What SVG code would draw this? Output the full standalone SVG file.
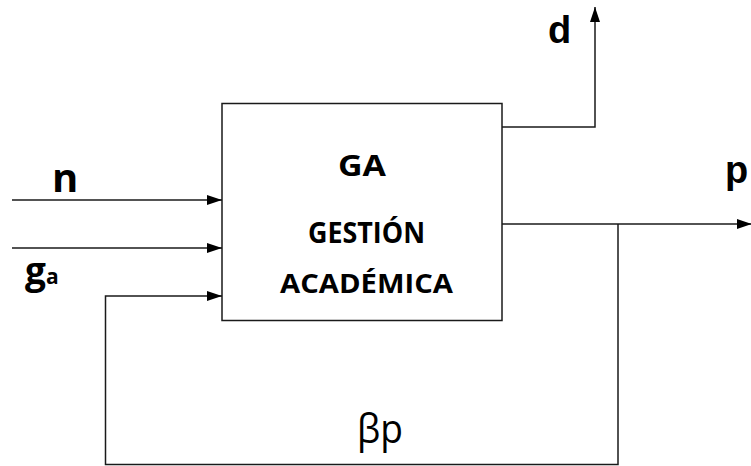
<svg xmlns="http://www.w3.org/2000/svg" width="751" height="466" viewBox="0 0 751 466">
  <style>
    .wire { fill: none; stroke: #1a1a1a; stroke-width: 1.5; }
    .box { fill: #ffffff; stroke: #1a1a1a; stroke-width: 1.5; }
    .lbl { font-family: "Open Sans", Lato, "Liberation Sans", sans-serif; font-weight: bold; fill: #000; }
    .sig { font-family: "Liberation Sans", Arial, sans-serif; font-weight: bold; fill: #000; }
    .fb { font-family: "Open Sans", "Noto Sans", "DejaVu Sans", sans-serif; fill: #000; }
  </style>
  <defs>
    <marker id="arrow" markerUnits="userSpaceOnUse" markerWidth="15" markerHeight="10" refX="15" refY="5" orient="auto">
      <path d="M0,0 L15,5 L0,10 z" fill="#000"/>
    </marker>
  </defs>
  <rect width="751" height="466" fill="#ffffff"/>

  <!-- process block -->
  <g id="node-ga">
    <rect class="box" x="222" y="103.5" width="280" height="217"/>
    <text class="lbl" x="362" y="176" font-size="29" text-anchor="middle" textLength="48" lengthAdjust="spacingAndGlyphs">GA</text>
    <text class="lbl" x="366.5" y="243" font-size="28" text-anchor="middle" textLength="117" lengthAdjust="spacingAndGlyphs">GESTIÓN</text>
    <text class="lbl" x="366.5" y="293" font-size="27.5" text-anchor="middle" textLength="173" lengthAdjust="spacingAndGlyphs">ACADÉMICA</text>
  </g>

  <!-- signal labels -->
  <g id="label-n">
    <text class="lbl" x="52" y="192" font-size="40">n</text>
  </g>
  <g id="label-ga">
    <text class="lbl" x="25" y="284" font-size="37">g<tspan font-size="21" dx="0">a</tspan></text>
  </g>
  <g id="label-d">
    <text class="sig" x="548" y="43" font-size="38">d</text>
  </g>
  <g id="label-p">
    <text class="sig" x="725" y="183" font-size="38">p</text>
  </g>
  <g id="label-bp">
    <text class="fb" x="357" y="443" font-size="40" textLength="46" lengthAdjust="spacingAndGlyphs">βp</text>
  </g>

  <!-- connectors -->
  <g id="connectors">
    <line class="wire" x1="12" y1="200" x2="222" y2="200" marker-end="url(#arrow)"/>
    <line class="wire" x1="12" y1="248" x2="222" y2="248" marker-end="url(#arrow)"/>
    <polyline class="wire" points="502,127 595,127 595,7" marker-end="url(#arrow)"/>
    <line class="wire" x1="502" y1="224" x2="752" y2="224" marker-end="url(#arrow)"/>
    <polyline class="wire" points="618,224 618,464.5 105.5,464.5 105.5,296 222,296" marker-end="url(#arrow)"/>
  </g>
</svg>
